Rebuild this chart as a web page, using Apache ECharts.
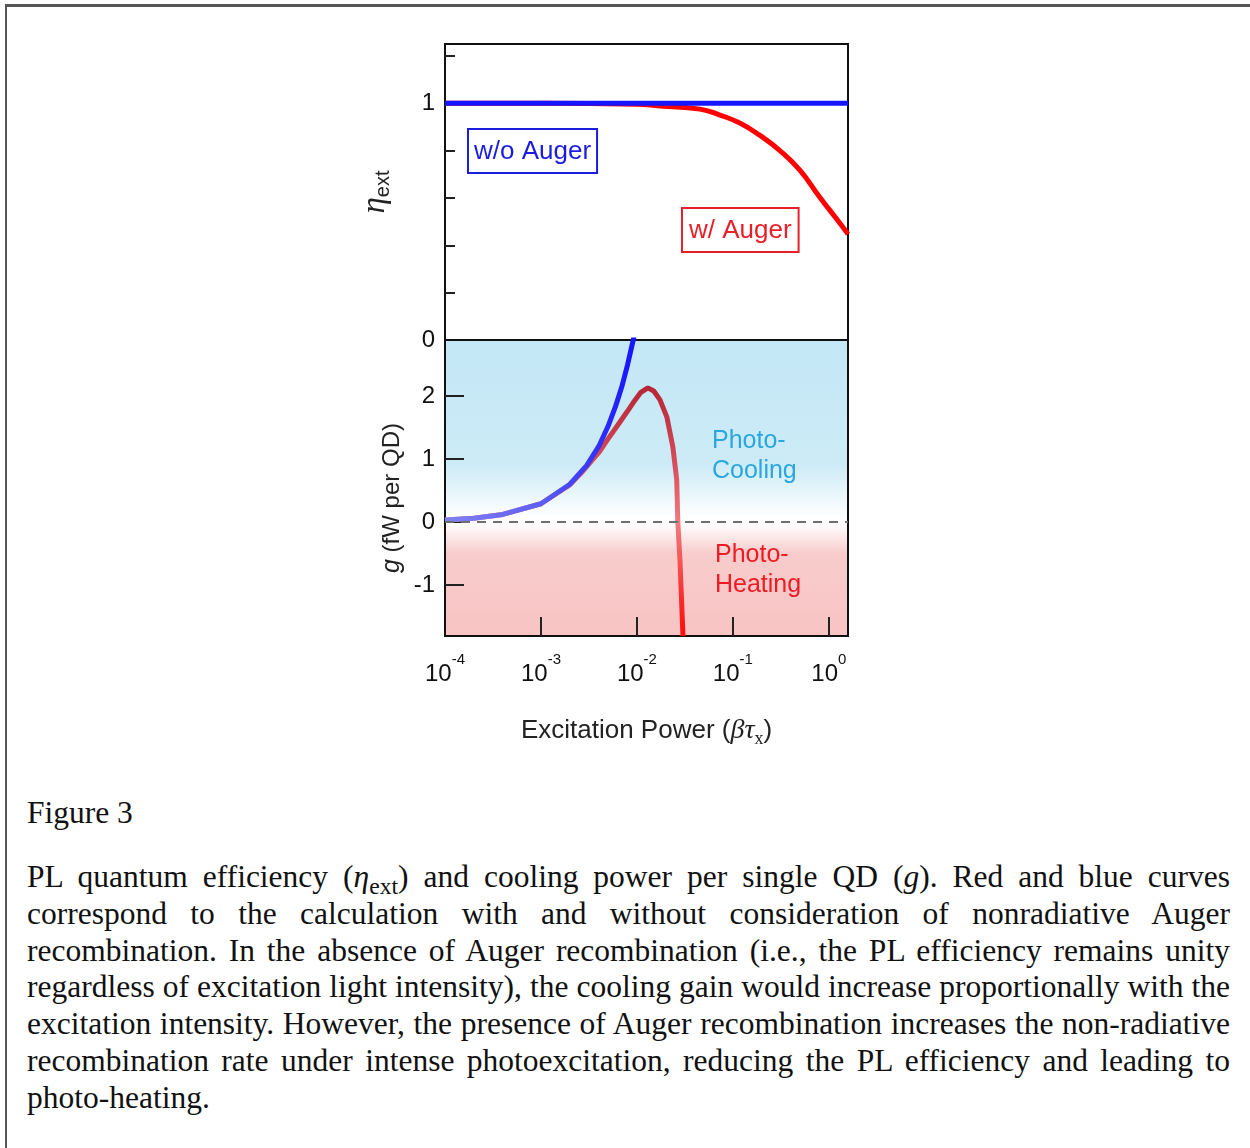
<!DOCTYPE html>
<html>
<head>
<meta charset="utf-8">
<script src="https://cdn.jsdelivr.net/npm/echarts@6/dist/echarts.min.js"></script>
<style>
  html, body { margin: 0; padding: 0; background: #fff; }
  body { width: 1250px; height: 1148px; position: relative; overflow: hidden; }
  #frame { position: absolute; left: 5px; top: 4px; width: 1260px; height: 1160px;
           border-top: 3px solid #555; border-left: 2px solid #555; }
  #chart { position: absolute; left: 0; top: 0; width: 1250px; height: 780px; }
  .cap { position: absolute; left: 27px; width: 1203px; color: #111;
         font-family: "Liberation Serif", serif; font-size: 31.5px; line-height: 36.8px; }
  .ln { text-align: justify; text-align-last: justify; height: 36.8px; white-space: nowrap; word-spacing: -1.5px; }
  .ln.last { text-align-last: left; word-spacing: 0; }
  .ln i { font-style: italic; }
  .ln sub { font-size: 0.75em; line-height: 0; vertical-align: -0.3em; }
</style>
</head>
<body>
<div id="frame"></div>
<div id="chart"></div>
<div class="cap" style="top:795px">Figure 3</div>
<div class="cap" style="top:859px">
  <div class="ln">PL quantum efficiency (<i>η</i><sub>ext</sub>) and cooling power per single QD (<i>g</i>). Red and blue curves</div>
  <div class="ln">correspond to the calculation with and without consideration of nonradiative Auger</div>
  <div class="ln">recombination. In the absence of Auger recombination (i.e., the PL efficiency remains unity</div>
  <div class="ln">regardless of excitation light intensity), the cooling gain would increase proportionally with the</div>
  <div class="ln">excitation intensity. However, the presence of Auger recombination increases the non-radiative</div>
  <div class="ln">recombination rate under intense photoexcitation, reducing the PL efficiency and leading to</div>
  <div class="ln last">photo-heating.</div>
</div>
<script>
// top panel: PL efficiency vs excitation power
const powerEta = [1e-4, 1e-3, 1e-2, 0.0174, 0.0453, 0.0733, 0.118, 0.19, 0.309, 0.499, 0.805, 1.3, 1.585];
const etaWithAuger = [1.0, 1.0, 0.996, 0.988, 0.975, 0.95, 0.916, 0.865, 0.8, 0.717, 0.603, 0.494, 0.447];
const powerFlat = [1e-4, 1.585];
const etaWithoutAuger = [1.0, 1.0];

// bottom panel: cooling power g (fW per QD)
const powerBlue = [1e-4, 2e-4, 4e-4, 1e-3, 2e-3, 3e-3, 4e-3, 5e-3, 6e-3, 7e-3, 8e-3, 9e-3, 1e-2];
const gWithoutAuger = [0.03, 0.06, 0.12, 0.29, 0.6, 0.9, 1.2, 1.52, 1.84, 2.16, 2.5, 2.84, 3.15];
const powerRed = [1e-4, 2e-4, 4e-4, 1e-3, 2e-3, 2.6e-3, 3.2e-3, 4e-3, 4.9e-3, 6.2e-3, 7.9e-3, 9.5e-3,
                  1.1e-2, 1.3e-2, 1.5e-2, 1.74e-2, 2.05e-2, 2.37e-2, 2.6e-2, 2.67e-2, 2.81e-2, 3.02e-2];
const gWithAuger = [0.03, 0.06, 0.12, 0.29, 0.59, 0.77, 0.93, 1.1, 1.3, 1.52, 1.75, 1.93,
                    2.06, 2.13, 2.08, 1.94, 1.67, 1.19, 0.67, 0.0, -0.6, -1.81];

// axes
const xMin = 1e-4, xMax = 1.585;
const xTickValues = [1e-3, 1e-2, 1e-1, 1];
const xLabelValues = [1e-4, 1e-3, 1e-2, 1e-1, 1];
const etaTickValues = [0.2, 0.4, 0.6, 0.8, 1.0, 1.2];
const etaLabelValues = [0, 1];
const gTickValues = [-1, 0, 1, 2];
const gLabelValues = [-1, 0, 1, 2];

const zip = (xs, ys) => xs.map((x, i) => [x, ys[i]]);
const SANS = '"Liberation Sans", Arial, sans-serif';
const SERIF = '"Liberation Serif", "Times New Roman", serif';
const G = echarts.graphic.LinearGradient;

const chart = echarts.init(document.getElementById('chart'), null, { renderer: 'canvas' });

const labelStyle = { fontSize: 24, fontFamily: SANS, color: '#111', margin: 10 };

chart.setOption({
  animation: false,
  backgroundColor: 'transparent',
  grid: [
    { left: 445, top: 44, width: 403, height: 296, show: true,
      borderColor: '#111', borderWidth: 2, backgroundColor: 'transparent' },
    { left: 445, top: 340, width: 403, height: 296, show: true,
      borderColor: '#111', borderWidth: 2,
      backgroundColor: new G(0, 0, 0, 1, [
        { offset: 0, color: '#c3e7f6' },
        { offset: 0.42, color: '#cdebf7' },
        { offset: 0.6, color: '#ffffff' },
        { offset: 0.62, color: '#ffffff' },
        { offset: 0.72, color: '#f8cccc' },
        { offset: 1, color: '#f8c3c3' }
      ]) }
  ],
  xAxis: [
    { type: 'log', gridIndex: 0, min: xMin, max: xMax, show: false },
    { type: 'log', gridIndex: 1, min: xMin, max: xMax,
      axisLine: { show: false, onZero: false },
      splitLine: { show: false },
      axisTick: { inside: true, length: 19, customValues: xTickValues,
                  lineStyle: { color: '#222', width: 2 } },
      axisLabel: {
        customValues: xLabelValues, margin: 16,
        formatter: v => '{b|10}{s|' + Math.round(Math.log10(v)) + '}',
        rich: {
          b: { fontSize: 24, fontFamily: SANS, color: '#111', lineHeight: 34, verticalAlign: 'bottom' },
          s: { fontSize: 15, fontFamily: SANS, color: '#111', lineHeight: 34, verticalAlign: 'top' }
        }
      },
      name: 'Excitation Power ({m|βτ}{s|x})',
      nameLocation: 'middle', nameGap: 78,
      nameTextStyle: {
        fontSize: 26, fontFamily: SANS, color: '#222',
        rich: {
          m: { fontSize: 28, fontFamily: SERIF, fontStyle: 'italic', color: '#222' },
          s: { fontSize: 18, fontFamily: SERIF, color: '#222', verticalAlign: 'bottom', lineHeight: 34 }
        }
      }
    }
  ],
  yAxis: [
    { type: 'value', gridIndex: 0, min: 0, max: 1.25,
      axisLine: { show: false, onZero: false }, splitLine: { show: false },
      axisTick: { inside: true, length: 10, customValues: etaTickValues,
                  lineStyle: { color: '#222', width: 2 } },
      axisLabel: Object.assign({ customValues: etaLabelValues }, labelStyle),
      name: '{e|η}{s|ext}', nameLocation: 'middle', nameGap: 52,
      nameTextStyle: {
        rich: {
          e: { fontSize: 33, fontFamily: SERIF, fontStyle: 'italic', color: '#222', lineHeight: 36 },
          s: { fontSize: 20, fontFamily: SANS, color: '#222', verticalAlign: 'bottom', lineHeight: 36 }
        }
      }
    },
    { type: 'value', gridIndex: 1, min: -1.81, max: 2.89,
      axisLine: { show: false, onZero: false }, splitLine: { show: false },
      axisTick: { inside: true, length: 19, customValues: gTickValues,
                  lineStyle: { color: '#222', width: 2 } },
      axisLabel: Object.assign({ customValues: gLabelValues }, labelStyle),
      name: '{i|g} (fW per QD)', nameLocation: 'middle', nameGap: 40,
      nameTextStyle: {
        fontSize: 24, fontFamily: SANS, color: '#222', padding: [0, 20, 0, 0],
        rich: { i: { fontSize: 25, fontFamily: SANS, fontStyle: 'italic', color: '#222' } }
      }
    }
  ],
  series: [
    { name: 'w/ Auger (eta)', type: 'line', xAxisIndex: 0, yAxisIndex: 0,
      data: zip(powerEta, etaWithAuger), showSymbol: false, smooth: true,
      lineStyle: { color: '#ff0000', width: 5 }, z: 3 },
    { name: 'w/o Auger (eta)', type: 'line', xAxisIndex: 0, yAxisIndex: 0,
      data: zip(powerFlat, etaWithoutAuger), showSymbol: false,
      lineStyle: { color: '#1414ff', width: 5 }, z: 4 },
    { name: 'zero', type: 'line', xAxisIndex: 1, yAxisIndex: 1, data: [], z: 2,
      markLine: { silent: true, symbol: 'none', label: { show: false },
                  lineStyle: { color: '#6e6e6e', type: [9, 7], width: 2 },
                  data: [{ yAxis: 0 }] } },
    { name: 'w/ Auger (g)', type: 'line', xAxisIndex: 1, yAxisIndex: 1,
      data: zip(powerRed, gWithAuger), showSymbol: false, clip: true,
      lineStyle: { width: 5, color: new G(0, 0, 0, 1, [
        { offset: 0, color: '#b52535' },
        { offset: 0.12, color: '#c23443' },
        { offset: 0.3, color: '#d44d58' },
        { offset: 0.46, color: '#e86a72' },
        { offset: 0.55, color: '#f07a7e' },
        { offset: 0.68, color: '#f55858' },
        { offset: 0.85, color: '#fb2a2a' },
        { offset: 1, color: '#ff0a0a' }
      ]) }, z: 3 },
    { name: 'w/o Auger (g)', type: 'line', xAxisIndex: 1, yAxisIndex: 1,
      data: zip(powerBlue, gWithoutAuger), showSymbol: false, clip: true,
      lineStyle: { width: 5, color: new G(0, 0, 1, 0, [
        { offset: 0, color: '#8282f2' },
        { offset: 0.5, color: '#5e5ef6' },
        { offset: 1, color: '#1010ff' }
      ]) }, z: 4 }
  ],
  graphic: [
    { type: 'text', left: 467, top: 128, z: 10,
      style: { text: 'w/o Auger', font: '26px ' + SANS, fill: '#1c1ce0',
               borderColor: '#1c1ce0', borderWidth: 2, padding: [9, 5, 7, 5], backgroundColor: '#fff' } },
    { type: 'text', left: 681, top: 207, z: 10,
      style: { text: 'w/ Auger', font: '26px ' + SANS, fill: '#e8202a',
               borderColor: '#e8202a', borderWidth: 2, padding: [9, 6, 7, 6], backgroundColor: '#fff' } },
    { type: 'text', left: 712, top: 426, z: 10,
      style: { text: 'Photo-\nCooling', font: '25px ' + SANS, fill: '#2aa7df', lineHeight: 30 } },
    { type: 'text', left: 715, top: 540, z: 10,
      style: { text: 'Photo-\nHeating', font: '25px ' + SANS, fill: '#ed1c24', lineHeight: 30 } }
  ]
});
</script>
</body>
</html>
